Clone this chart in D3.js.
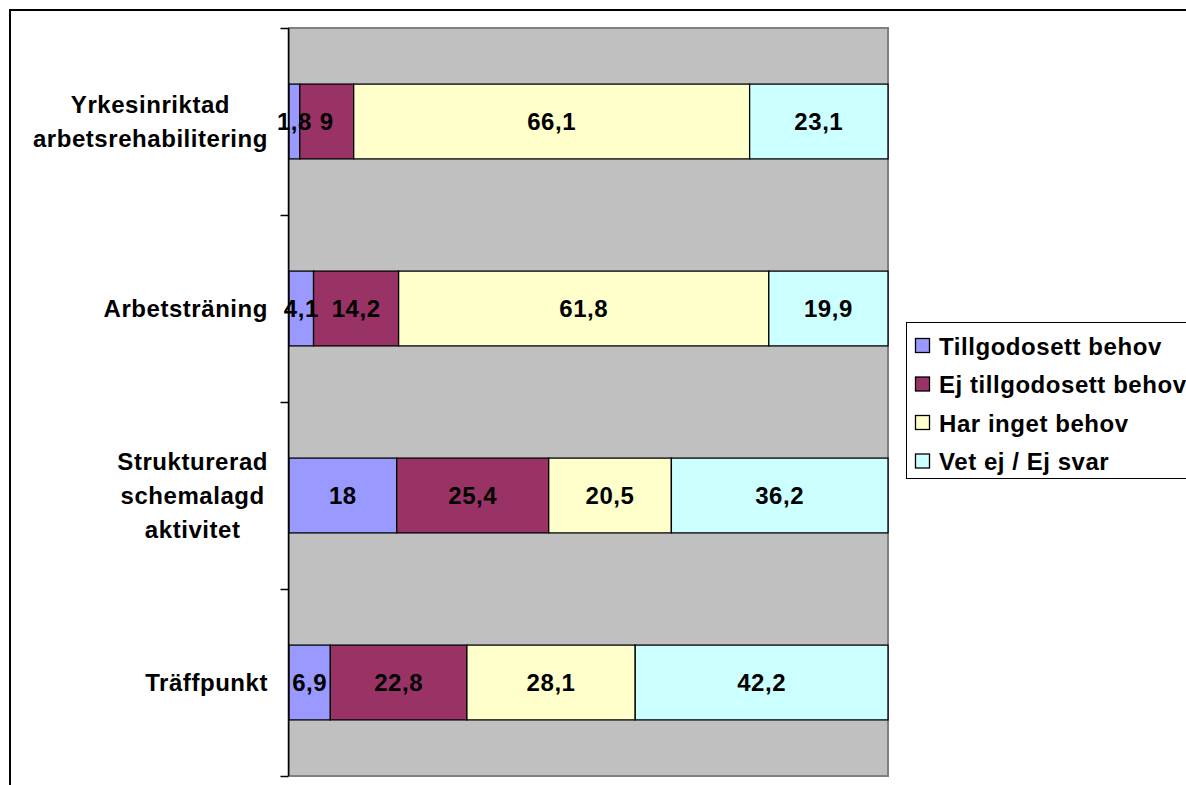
<!DOCTYPE html>
<html>
<head>
<meta charset="utf-8">
<script src="https://cdn.jsdelivr.net/npm/d3@7"></script>
<style>
  html, body { margin: 0; padding: 0; background: #fff; }
  svg { display: block; }
  text { font-family: "Liberation Sans", Arial, sans-serif; font-weight: bold; letter-spacing: 0.55px; }
</style>
</head>
<body>
<svg id="chart" width="1186" height="785"></svg>
<script>
// Categories (top to bottom), each split into label lines
const categories = [
  ["Yrkesinriktad", "arbetsrehabilitering"],
  ["Arbetsträning"],
  ["Strukturerad", "schemalagd", "aktivitet"],
  ["Träffpunkt"]
];

// Series names and colours
const seriesNames = ["Tillgodosett behov", "Ej tillgodosett behov", "Har inget behov", "Vet ej / Ej svar"];
const seriesColors = ["#9999FF", "#993366", "#FFFFCC", "#CCFFFF"];

// Percent per category, one array per series
const tillgodosett   = [1.8, 4.1, 18, 6.9];
const ejTillgodosett = [9, 14.2, 25.4, 22.8];
const ingetBehov     = [66.1, 61.8, 20.5, 28.1];
const vetEj          = [23.1, 19.9, 36.2, 42.2];

const seriesValues = [tillgodosett, ejTillgodosett, ingetBehov, vetEj];

const rows = categories.map((c, i) => {
  const r = { key: i };
  seriesNames.forEach((s, j) => { r[s] = seriesValues[j][i]; });
  return r;
});

const svg = d3.select("#chart");
const plot = { left: 289, right: 888, top: 28, bottom: 776 };
const fontSize = 24;
const capHalf = fontSize * 0.716 / 2;

// Chart frame
svg.append("rect")
  .attr("x", 10).attr("y", 10)
  .attr("width", 1300).attr("height", 900)
  .attr("fill", "#fff").attr("stroke", "#000").attr("stroke-width", 2);

// Scales
const x = d3.scaleLinear().domain([0, 1]).range([plot.left, plot.right]);
const y = d3.scaleBand()
  .domain(rows.map(d => d.key))
  .range([plot.top, plot.bottom])
  .paddingInner(0.6).paddingOuter(0.3);
const yEdge = d3.scaleLinear().domain([0, categories.length]).range([plot.top, plot.bottom]);

// Plot area background
svg.append("rect")
  .attr("x", plot.left).attr("y", plot.top)
  .attr("width", plot.right - plot.left).attr("height", plot.bottom - plot.top)
  .attr("fill", "#C0C0C0").attr("stroke", "#808080").attr("stroke-width", 2);

// Stacked, normalised to 100 %
const stack = d3.stack().keys(seriesNames).offset(d3.stackOffsetExpand);
const layers = stack(rows);

const g = svg.append("g");
layers.forEach((layer, j) => {
  g.selectAll(null)
    .data(layer)
    .enter().append("rect")
    .attr("x", d => x(d[0]))
    .attr("y", d => y(d.data.key))
    .attr("width", d => x(d[1]) - x(d[0]))
    .attr("height", y.bandwidth())
    .attr("fill", seriesColors[j])
    .attr("stroke", "#000")
    .attr("stroke-width", 1.3);
});

// Value labels
const fmt = v => String(v).replace(".", ",");
layers.forEach((layer, j) => {
  g.selectAll(null)
    .data(layer)
    .enter().append("text")
    .attr("x", d => (x(d[0]) + x(d[1])) / 2)
    .attr("y", d => y(d.data.key) + y.bandwidth() / 2 + capHalf)
    .attr("text-anchor", "middle")
    .attr("font-size", fontSize)
    .attr("fill", "#000")
    .text(d => fmt(d.data[seriesNames[j]]));
});

// Category axis with ticks at band boundaries
const axis = d3.axisLeft(yEdge)
  .tickValues(d3.range(categories.length + 1))
  .tickSize(8)
  .tickFormat("");
const axG = svg.append("g")
  .attr("transform", `translate(${plot.left - 0.5},0)`)
  .call(axis);
axG.select(".domain").attr("stroke", "#000").attr("stroke-width", 1.5).attr("d", `M0,${plot.top}V${plot.bottom}`);
axG.selectAll(".tick line").attr("stroke", "#000").attr("stroke-width", 1.5);

// Category labels: block right-aligned, lines centred within the block
const labelRight = 268;
const lineH = 34;
categories.forEach((lines, i) => {
  const cy = y(i) + y.bandwidth() / 2;
  const grp = svg.append("g");
  const texts = lines.map((ln, k) => grp.append("text")
    .attr("y", cy + (k - (lines.length - 1) / 2) * lineH + capHalf)
    .attr("text-anchor", "middle")
    .attr("font-size", fontSize)
    .attr("fill", "#000")
    .text(ln));
  const w = d3.max(texts, t => t.node().getComputedTextLength());
  texts.forEach(t => t.attr("x", labelRight - w / 2));
});

// Legend
const legend = svg.append("g");
legend.append("rect")
  .attr("x", 906.5).attr("y", 322.5)
  .attr("width", 400).attr("height", 156)
  .attr("fill", "#fff").attr("stroke", "#000").attr("stroke-width", 1);
seriesNames.forEach((s, j) => {
  const cy = 346 + j * 38.5;
  legend.append("rect")
    .attr("x", 915.5).attr("y", cy - 7.5)
    .attr("width", 14).attr("height", 14)
    .attr("fill", seriesColors[j]).attr("stroke", "#000").attr("stroke-width", 1.3);
  legend.append("text")
    .attr("x", 939).attr("y", cy + capHalf)
    .attr("font-size", fontSize)
    .attr("fill", "#000")
    .text(s);
});
</script>
</body>
</html>
